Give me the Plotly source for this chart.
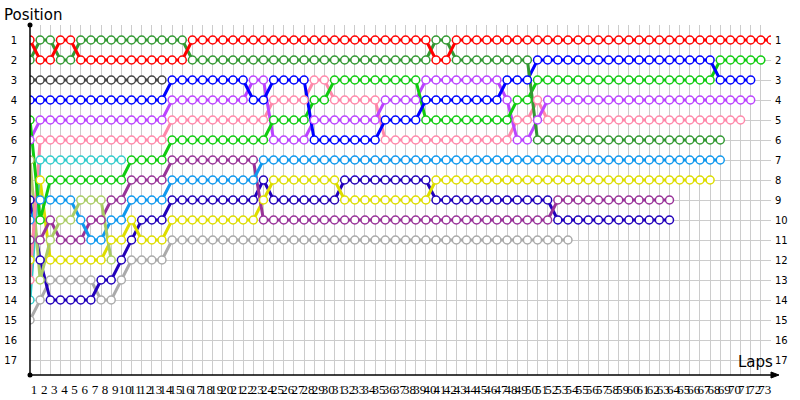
import plotly.graph_objects as go

# ---------------- data ----------------
laps = list(range(74))                      # column index (0 = grid)
lap_labels = [str(n) for n in range(1, 74)] # x tick labels
positions = list(range(1, 18))              # y ticks
pos_labels = [str(p) for p in positions]

red = [1,2,2,1,1,2,2,2,2,2,
       2,2,2,2,2,2,1,1,1,1,
       1,1,1,1,1,1,1,1,1,1,
       1,1,1,1,1,1,1,1,1,1,
       2,2,1,1,1,1,1,1,1,1,
       1,1,1,1,1,1,1,1,1,1,
       1,1,1,1,1,1,1,1,1,1,
       1,1,1,1]
dark_green = [2,1,1,2,2,1,1,1,1,1,
              1,1,1,1,1,1,2,2,2,2,
              2,2,2,2,2,2,2,2,2,2,
              2,2,2,2,2,2,2,2,2,2,
              1,1,2,2,2,2,2,2,2,2,
              6,6,6,6,6,6,6,6,6,6,
              6,6,6,6,6,6,6,6,6]
dark_gray = [3,3,3,3,3,3,3,3,3,3,
             3,3,3,3]
blue = [4,4,4,4,4,4,4,4,4,4,
        4,4,4,4,3,3,3,3,3,3,
        3,3,4,4,3,3,3,3,6,6,
        6,6,6,6,6,5,5,5,5,4,
        4,4,4,4,4,4,4,3,3,3,
        2,2,2,2,2,2,2,2,2,2,
        2,2,2,2,2,2,2,2,3,3,
        3,3]
green = [5,10,8,8,8,8,8,8,8,8,
         7,7,7,7,6,6,6,6,6,6,
         6,6,6,6,5,5,5,5,4,4,
         3,3,3,3,3,3,3,3,3,5,
         5,5,5,5,5,5,5,5,4,4,
         3,3,3,3,3,3,3,3,3,3,
         3,3,3,3,3,3,3,3,2,2,
         2,2,2]
violet = [6,5,5,5,5,5,5,5,5,5,
          5,5,5,5,4,4,4,4,4,4,
          4,4,3,3,6,6,6,6,5,5,
          5,5,5,5,5,4,4,4,4,3,
          3,3,3,3,3,3,3,4,6,6,
          5,4,4,4,4,4,4,4,4,4,
          4,4,4,4,4,4,4,4,4,4,
          4,4]
pink = [13,6,6,6,6,6,6,6,6,6,
        6,6,6,6,5,5,5,5,5,5,
        5,5,5,5,4,4,4,4,3,3,
        4,4,4,4,4,6,6,6,6,6,
        6,6,6,6,6,6,6,6,5,5,
        4,5,5,5,5,5,5,5,5,5,
        5,5,5,5,5,5,5,5,5,5,
        5]
olive = [7,13,11,10,10,9,9,9,12]
teal = [14,7,7,7,7,7,7,7,7,7]
sky = [10,9,9,9,9,10,11,11,10,10,
       9,9,9,9,8,8,8,8,8,8,
       8,8,8,7,7,7,7,7,7,7,
       7,7,7,7,7,7,7,7,7,7,
       7,7,7,7,7,7,7,7,7,7,
       7,7,7,7,7,7,7,7,7,7,
       7,7,7,7,7,7,7,7,7]
plum = [11,11,10,11,11,11,10,10,9,9,
        8,8,8,8,7,7,7,7,7,7,
        7,7,7,10,10,10,10,10,10,10,
        10,10,10,10,10,10,10,10,10,10,
        10,10,10,10,10,10,10,10,10,10,
        10,10,9,9,9,9,9,9,9,9,
        9,9,9,9]
yellow = [12,8,12,12,12,12,12,12,11,11,
          10,11,11,11,10,10,10,10,10,10,
          10,10,10,9,8,8,8,8,8,8,
          8,9,9,9,9,9,9,9,9,9,
          8,8,8,8,8,8,8,8,8,8,
          8,8,8,8,8,8,8,8,8,8,
          8,8,8,8,8,8,8,8]
indigo = [9,12,14,14,14,14,14,13,13,12,
          11,10,10,10,9,9,9,9,9,9,
          9,9,9,8,9,9,9,9,9,9,
          9,8,8,8,8,8,8,8,8,8,
          9,9,9,9,9,9,9,9,9,9,
          9,9,10,10,10,10,10,10,10,10,
          10,10,10,10]
gray = [15,14,13,13,13,13,13,14,14,13,
        12,12,12,12,11,11,11,11,11,11,
        11,11,11,11,11,11,11,11,11,11,
        11,11,11,11,11,11,11,11,11,11,
        11,11,11,11,11,11,11,11,11,11,
        11,11,11,11]

cars = [
    (gray, "#aaaaaa"),
    (indigo, "#2200bb"),
    (yellow, "#dddd00"),
    (plum, "#993399"),
    (sky, "#1199ee"),
    (teal, "#33cccc"),
    (olive, "#aacc66"),
    (pink, "#ff88aa"),
    (violet, "#bb44ff"),
    (green, "#11cc11"),
    (blue, "#0000ff"),
    (dark_gray, "#444444"),
    (dark_green, "#339933"),
    (red, "#ff0000"),
]

fig = go.Figure()
for vals, col in cars:
    fig.add_trace(go.Scatter(x=laps[:len(vals)], y=vals, mode="lines",
                             line=dict(color=col, width=3),
                             hoverinfo="skip", showlegend=False))
for vals, col in cars:
    fig.add_trace(go.Scatter(x=laps[:len(vals)], y=vals, mode="markers",
                             marker=dict(symbol="circle", size=8, color="white",
                                         line=dict(color=col, width=1.5)),
                             hoverinfo="skip", showlegend=False))

# helper traces so that the secondary (label) axes are drawn
fig.add_trace(go.Scatter(x=[None], y=[None], xaxis="x2", yaxis="y", showlegend=False))
fig.add_trace(go.Scatter(x=[None], y=[None], xaxis="x", yaxis="y2", showlegend=False))

tick_font_y = dict(family="DejaVu Sans", size=10, color="black")

fig.update_layout(
    width=800, height=400,
    margin=dict(l=30, r=29, t=25, b=25, autoexpand=False),
    plot_bgcolor="white", paper_bgcolor="white",
    showlegend=False,
    xaxis=dict(range=[0, 73], tickvals=laps, showticklabels=False,
               showgrid=True, gridcolor="#cccccc", gridwidth=1,
               zeroline=False, showline=False, ticks="", automargin=False),
    xaxis2=dict(overlaying="x", side="bottom", range=[0, 73],
                tickvals=laps[:73], ticktext=lap_labels, tickangle=0,
                showgrid=False, zeroline=False, showline=False, ticks="",
                tickfont=dict(family="Liberation Serif", size=13, color="black"),
                ticklabelshift=4, ticklabelstandoff=5, automargin=False),
    yaxis=dict(range=[17.75, 0.25], tickvals=positions, ticktext=pos_labels,
               showgrid=True, gridcolor="#cccccc", gridwidth=1,
               zeroline=False, showline=False, ticks="",
               tickfont=tick_font_y, ticklabelstandoff=12, automargin=False),
    yaxis2=dict(overlaying="y", side="right", range=[17.75, 0.25],
                tickvals=positions, ticktext=pos_labels,
                showgrid=False, zeroline=False, showline=False, ticks="",
                tickfont=tick_font_y, ticklabelstandoff=3, automargin=False),
)

# axis lines, dots and arrow
fig.add_shape(type="line", xref="paper", yref="paper", x0=0, x1=0, y0=0, y1=1,
              line=dict(color="black", width=1.5), layer="above")
fig.add_shape(type="line", xref="paper", yref="paper", x0=0, x1=1.006, y0=0, y1=0,
              line=dict(color="black", width=1.5), layer="above")
for ya in (0, 1):
    fig.add_shape(type="circle", xref="paper", yref="paper",
                  xsizemode="pixel", ysizemode="pixel", xanchor=0, yanchor=ya,
                  x0=-2.5, x1=2.5, y0=-2.5, y1=2.5,
                  fillcolor="black", line=dict(color="black", width=0), layer="above")
fig.add_shape(type="path", xref="paper", yref="paper",
              xsizemode="pixel", ysizemode="pixel", xanchor=1.0, yanchor=0,
              path="M 0,-3 L 8,0 L 0,3 Z",
              fillcolor="black", line=dict(color="black", width=1), layer="above")

fig.add_annotation(text="Position", xref="paper", yref="paper",
                   x=-0.038, y=1.0286, xanchor="left", yanchor="middle",
                   showarrow=False, font=dict(family="DejaVu Sans", size=15, color="black"))
fig.add_annotation(text="Laps", xref="paper", yref="paper",
                   x=1.006, y=0.036, xanchor="right", yanchor="middle",
                   showarrow=False, font=dict(family="DejaVu Sans", size=15, color="black"))

fig.write_html("out.html", config={"displayModeBar": False},
               post_script="document.body.style.margin='0';")
